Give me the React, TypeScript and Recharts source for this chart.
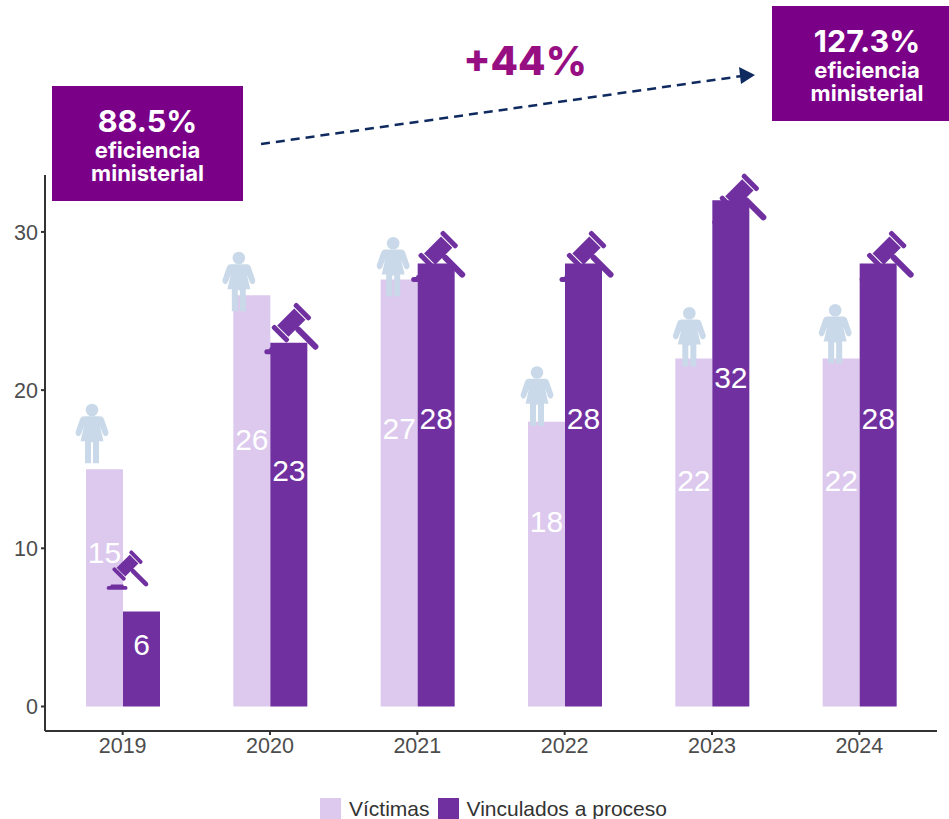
import { BarChart, Bar, XAxis, YAxis, LabelList, Legend } from 'recharts';

const years = ['2019', '2020', '2021', '2022', '2023', '2024'];
const victimas = [15, 26, 27, 18, 22, 22];
const vinculados = [6, 23, 28, 28, 32, 28];
const yTicks = [0, 10, 20, 30];

const data = years.map((year, i) => ({ year, victimas: victimas[i], vinculados: vinculados[i] }));

// the icons were placed by hand in the original, so each one has its own nudge
const womanNudge = [
  [-12.5, -65],
  [-13, -43],
  [-6, -42],
  [-9.5, -55],
  [-4.5, -51],
  [-6, -54],
];
const gavelNudge = [
  [-14, -46, 0.77],
  [2.5, -20, 1],
  [2, -13, 1],
  [3, -13, 1],
  [8.5, -7, 1],
  [8.5, -13, 1],
];

const LIGHT = '#dcc9ed';
const DARK = '#7030a0';
const BOX = '#7b0088';
const FONT = '"Liberation Sans", Arial, sans-serif';
const BOLD = 'Inter, sans-serif';

function BarValue({ x, y, width, height, value }: any) {
  return (
    <text
      x={x + width / 2}
      y={y + height * 0.35}
      textAnchor="middle"
      dominantBaseline="central"
      fill="#fff"
      fontSize={30}
      fontFamily={FONT}
    >
      {value}
    </text>
  );
}

function Woman({ x, y, width, index }: any) {
  const [dx, dy] = womanNudge[index];
  return (
    <g transform={`translate(${x + width / 2 + dx},${y + dy})`} fill="#c9d9e9">
      <circle cx={0} cy={5.8} r={6.3} />
      <path d="M-8,12 L8,12 Q11,12 12,15 L16.5,28 Q16.5,31 14,32 Q12,32 11,30 L8,22 L11.5,37 L7,37 L7,59 L1,59 L1,38 L-1,38 L-1,59 L-7,59 L-7,37 L-11.5,37 L-8,22 L-11,30 Q-12,32 -14,32 Q-16.5,31 -16.5,28 L-12,15 Q-11,12 -8,12 Z" />
    </g>
  );
}

function Gavel({ x, y, width, index }: any) {
  const [dx, dy, k] = gavelNudge[index];
  return (
    <g transform={`translate(${x + width / 2 + dx},${y + dy}) scale(${k})`} fill={DARK}>
      <g transform="rotate(-45)">
        <rect x={-12} y={-8} width={24} height={16} />
        <rect x={-18} y={-11} width={5} height={22} rx={2} />
        <rect x={13} y={-11} width={5} height={22} rx={2} />
        <rect x={-3} y={7} width={6} height={30} rx={3} />
      </g>
      <rect x={-27} y={26.5} width={27} height={5} rx={2.5} />
      <rect x={-22} y={24.5} width={17} height={4} rx={1.5} />
    </g>
  );
}

function LegendRow({ payload }: any) {
  return (
    <div style={{ display: 'flex', alignItems: 'center', fontFamily: FONT, fontSize: 21, lineHeight: '21px', color: '#333', whiteSpace: 'nowrap' }}>
      {(payload || []).map((item: any) => (
        <span key={item.value} style={{ display: 'flex', alignItems: 'center', marginRight: 8 }}>
          <span style={{ width: 21, height: 21, background: item.color, marginRight: 8 }} />
          {item.value}
        </span>
      ))}
    </div>
  );
}

function EfficiencyBox({ left, top, width, height, pct, shift }: any) {
  return (
    <div
      style={{
        position: 'absolute',
        left,
        top,
        width,
        height,
        paddingLeft: shift,
        boxSizing: 'border-box',
        background: BOX,
        color: '#fff',
        fontFamily: BOLD,
        fontWeight: 700,
        textAlign: 'center',
        display: 'flex',
        flexDirection: 'column',
        justifyContent: 'center',
      }}
    >
      <div style={{ fontSize: 30.5, lineHeight: '36px' }}>{pct}</div>
      <div style={{ fontSize: 22, lineHeight: '23px' }}>eficiencia</div>
      <div style={{ fontSize: 22, lineHeight: '23px' }}>ministerial</div>
    </div>
  );
}

export default function App() {
  return (
    <div style={{ position: 'absolute', left: 0, top: 0, width: 949, height: 819, overflow: 'hidden', background: '#fff' }}>
      <BarChart
        width={949}
        height={819}
        data={data}
        margin={{ top: 175, right: 12, bottom: 0, left: 0 }}
        barSize={37}
        barGap={0}
      >
        <XAxis
          dataKey="year"
          height={67}
          padding={{ left: 4, right: 4 }}
          stroke="#333"
          strokeWidth={2}
          tickSize={4}
          tick={{ fill: '#4d4d4d', fontSize: 21.5, fontFamily: FONT }}
          tickMargin={3}
        />
        <YAxis
          width={45}
          domain={[-1.55, 33.6]}
          ticks={yTicks}
          allowDataOverflow
          stroke="#333"
          strokeWidth={2}
          tickSize={4}
          tick={{ fill: '#4d4d4d', fontSize: 21.5, fontFamily: FONT }}
          tickMargin={3}
        />
        <Legend
          verticalAlign="bottom"
          itemSorter={null}
          content={<LegendRow />}
          wrapperStyle={{ position: 'absolute', left: 320, top: 798, width: 400, height: 21, bottom: 'auto' }}
        />
        <Bar dataKey="victimas" name="Víctimas" fill={LIGHT} isAnimationActive={false}>
          <LabelList dataKey="victimas" content={<BarValue />} />
          <LabelList dataKey="victimas" content={<Woman />} />
        </Bar>
        <Bar dataKey="vinculados" name="Vinculados a proceso" fill={DARK} isAnimationActive={false}>
          <LabelList dataKey="vinculados" content={<BarValue />} />
          <LabelList dataKey="vinculados" content={<Gavel />} />
        </Bar>
      </BarChart>

      <EfficiencyBox left={52} top={86} width={191} height={115} pct="88.5%" shift={0} />
      <EfficiencyBox left={772} top={6} width={177} height={115} pct="127.3%" shift={13} />

      <div
        style={{
          position: 'absolute',
          left: 425,
          top: 36,
          width: 200,
          textAlign: 'center',
          fontFamily: BOLD,
          fontWeight: 800,
          fontSize: 40,
          lineHeight: '50px',
          color: '#960e82',
        }}
      >
        +44%
      </div>
      <svg width={949} height={819} style={{ position: 'absolute', left: 0, top: 0, pointerEvents: 'none' }}>
        <line x1={261} y1={144} x2={742} y2={76} stroke="#0f2a5f" strokeWidth={2.5} strokeDasharray="9 6" />
        <polygon points="739,67 755,75 741,84" fill="#0f2a5f" />
      </svg>
    </div>
  );
}
